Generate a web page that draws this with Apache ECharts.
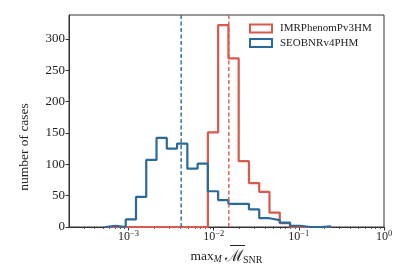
<!DOCTYPE html>
<html><head><meta charset="utf-8">
<script src="https://cdn.jsdelivr.net/npm/echarts@6/dist/echarts.min.js"></script>
<style>html,body{margin:0;padding:0;background:#fff}#c{width:407px;height:277px}</style>
</head><body><div id="c"></div>
<script>
// Bin edges (log-spaced)
const binEdges = [5.32e-4, 7.02e-4, 9.27e-4, 1.224e-3, 1.615e-3, 2.132e-3, 2.814e-3, 3.715e-3, 4.905e-3, 6.475e-3, 8.548e-3, 1.128e-2, 1.489e-2, 1.966e-2, 2.595e-2, 3.426e-2, 4.522e-2, 5.970e-2, 7.881e-2, 0.1040, 0.1373, 0.1813, 0.2393];
const seriesNames = ['IMRPhenomPv3HM', 'SEOBNRv4PHM'];
const imrCounts  = [0, 0, 0, 0, 0, 0, 0, 0, 0, 0, 151, 322, 269, 105, 70, 56, 23, 6, 0, 0, 0, 0];
const seobCounts = [2, 0, 12, 48, 107, 142, 125, 133, 93, 101, 57, 43, 37, 37, 28, 14, 11, 7, 2, 0, 0, 1];
const medianIMR = 1.506e-2;
const medianSEOB = 4.15e-3;
const xMajorTicks = [1e-3, 1e-2, 1e-1, 1];
const xMinorTicks = [3e-4, 4e-4, 5e-4, 6e-4, 7e-4, 8e-4, 9e-4, 2e-3, 3e-3, 4e-3, 5e-3, 6e-3, 7e-3, 8e-3, 9e-3, 2e-2, 3e-2, 4e-2, 5e-2, 6e-2, 7e-2, 8e-2, 9e-2, 0.2, 0.3, 0.4, 0.5, 0.6, 0.7, 0.8, 0.9];
const yTicks = [0, 50, 100, 150, 200, 250, 300];
const xMin = 2e-4, xMax = 1, yMin = 0, yMax = 338;

const RED = '#d95a4c', BLUE = '#2a6a9a', TXT = '#222', FONT = '"Liberation Serif", "DejaVu Serif", serif';

function stepPoints(edges, counts) {
  const pts = [[edges[0], 0]];
  for (let i = 0; i < counts.length; i++) pts.push([edges[i], counts[i]]);
  pts.push([edges[edges.length - 1], 0]);
  return pts;
}
function vline(x) { return [[x, yMin], [x, yMax]]; }

const chart = echarts.init(document.getElementById('c'), null, {renderer: 'canvas'});
chart.setOption({
  animation: false,
  backgroundColor: '#fff',
  grid: {left: 69, right: 23, top: 15, bottom: 50, show: true, borderColor: '#333', borderWidth: 1, backgroundColor: 'transparent'},
  legend: {
    left: 249, top: 23, orient: 'vertical', itemWidth: 22, itemHeight: 8, itemGap: 3.5, padding: 0,
    icon: 'rect',
    textStyle: {fontFamily: FONT, fontSize: 11, color: TXT, padding: [0, 0, 0, 3]},
    data: [
      {name: seriesNames[0], itemStyle: {color: 'transparent', borderColor: RED, borderWidth: 2}},
      {name: seriesNames[1], itemStyle: {color: 'transparent', borderColor: BLUE, borderWidth: 2}}
    ]
  },
  xAxis: [{
    type: 'log', logBase: 10, min: xMin, max: xMax,
    axisLine: {show: true, lineStyle: {color: '#333', width: 1}},
    axisTick: {show: true, length: 3.5, customValues: xMajorTicks, lineStyle: {color: '#333'}},
    axisLabel: {
      customValues: xMajorTicks, margin: 2, color: TXT,
      formatter: v => { const e = Math.round(Math.log10(v)); return '{b|10}{s|' + (e < 0 ? '\u2212' + Math.abs(e) : e) + '}'; },
      rich: {
        b: {fontFamily: FONT, fontSize: 12, color: TXT, verticalAlign: 'bottom', lineHeight: 14},
        s: {fontFamily: FONT, fontSize: 8.5, color: TXT, verticalAlign: 'top', lineHeight: 14, padding: [0, 0, 6, 0]}
      }
    },
    splitLine: {show: false},
    name: '{n|max}{i|M} {c|\u2133}{k|SNR}',
    nameLocation: 'middle', nameGap: 17,
    nameTextStyle: {
      rich: {
        n: {fontFamily: FONT, fontSize: 13.5, color: TXT},
        i: {fontFamily: FONT, fontSize: 9.5, fontStyle: 'italic', color: TXT, padding: [6, 0, 0, 0]},
        c: {fontFamily: '"DejaVu Serif", serif', fontSize: 16, color: TXT},
        k: {fontFamily: FONT, fontSize: 10, color: TXT, padding: [6, 0, 0, 0]}
      }
    }
  }, {
    type: 'log', logBase: 10, min: xMin, max: xMax, gridIndex: 0, position: 'bottom',
    axisLine: {show: false},
    axisTick: {show: true, length: 2, customValues: xMinorTicks, lineStyle: {color: '#333', width: 0.8}},
    axisLabel: {show: false},
    splitLine: {show: false}
  }],
  yAxis: {
    type: 'value', min: yMin, max: yMax,
    axisLine: {show: true, lineStyle: {color: '#333', width: 1}},
    axisTick: {show: true, length: 3.5, customValues: yTicks, lineStyle: {color: '#333'}},
    axisLabel: {customValues: yTicks, margin: 4, fontFamily: FONT, fontSize: 13, color: TXT},
    splitLine: {show: false}
  },
  graphic: [{
    type: 'text', x: 24, y: 147, rotation: Math.PI / 2,
    style: {text: 'number of cases', font: '13.5px "Liberation Serif"', fill: TXT, align: 'center', verticalAlign: 'middle'}
  }, {
    type: 'line', shape: {x1: 230, y1: 245.5, x2: 245, y2: 245.5}, style: {stroke: TXT, lineWidth: 1}
  }],
  series: [{
    name: seriesNames[0], type: 'line', step: 'end', showSymbol: false, symbol: 'none',
    data: stepPoints(binEdges, imrCounts),
    lineStyle: {color: RED, width: 2.2}, itemStyle: {color: RED}
  }, {
    name: seriesNames[1], type: 'line', step: 'end', showSymbol: false, symbol: 'none',
    data: stepPoints(binEdges, seobCounts),
    lineStyle: {color: BLUE, width: 2.2}, itemStyle: {color: BLUE}
  }, {
    name: 'median IMR', type: 'line', showSymbol: false, symbol: 'none',
    data: vline(medianIMR), lineStyle: {color: RED, width: 1.4, type: [4, 2.5]}, z: 3
  }, {
    name: 'median SEOB', type: 'line', showSymbol: false, symbol: 'none',
    data: vline(medianSEOB), lineStyle: {color: BLUE, width: 1.4, type: [4, 2.5]}, z: 3
  }]
});
</script></body></html>
